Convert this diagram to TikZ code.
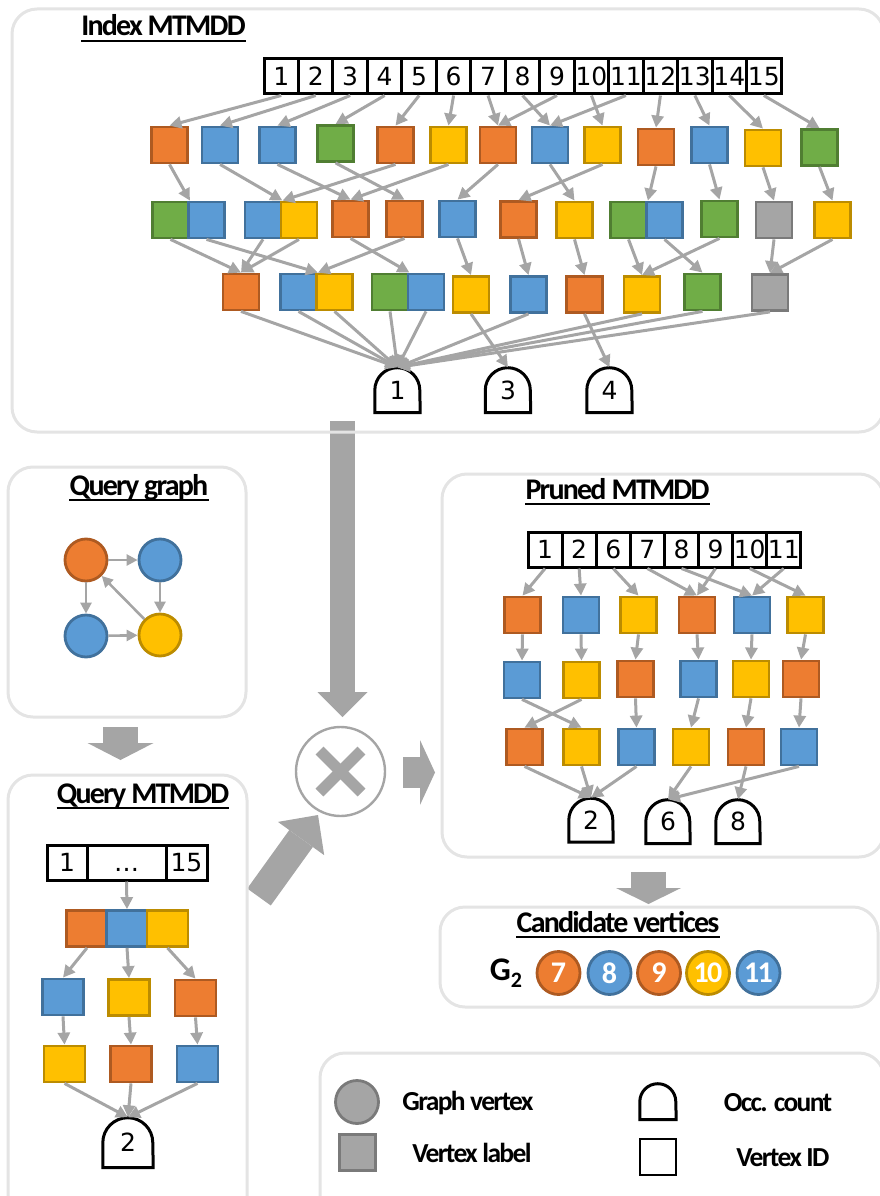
\documentclass[tikz,border=0pt]{standalone}
\usepackage{fontspec}
\usetikzlibrary{arrows.meta}
\newfontfamily\numfam{DejaVu Sans}
\newfontfamily\lblfam[LetterSpace=-6]{Carlito}
\newcommand{\numfont}{\numfam\fontsize{25}{25}\selectfont}
\newcommand{\ttlfont}{\lblfam\bfseries\fontsize{30}{30}\selectfont}
\newcommand{\legfont}{\lblfam\bfseries\fontsize{27.5}{27.5}\selectfont}
\newcommand{\candfont}{\lblfam\bfseries\fontsize{30}{30}\selectfont}
\definecolor{cOrange}{HTML}{ED7D31}
\definecolor{cOrangeD}{HTML}{AE5A21}
\definecolor{cBlue}{HTML}{5B9BD5}
\definecolor{cBlueD}{HTML}{41719C}
\definecolor{cYellow}{HTML}{FFC000}
\definecolor{cYellowD}{HTML}{BC8C00}
\definecolor{cGreen}{HTML}{70AD47}
\definecolor{cGreenD}{HTML}{507E32}
\definecolor{cGray}{HTML}{A5A5A5}
\definecolor{cGrayD}{HTML}{7A7A7A}
\definecolor{arrowgray}{HTML}{A5A5A5}
\definecolor{panelgray}{HTML}{E4E4E4}
\tikzstyle{sq}=[rectangle,minimum width=36pt,minimum height=36pt,inner sep=0pt,line width=2.8pt]
\tikzstyle{sqO}=[sq,fill=cOrange,draw=cOrangeD]
\tikzstyle{sqB}=[sq,fill=cBlue,draw=cBlueD]
\tikzstyle{sqY}=[sq,fill=cYellow,draw=cYellowD]
\tikzstyle{sqG}=[sq,fill=cGreen,draw=cGreenD]
\tikzstyle{sqX}=[sq,fill=cGray,draw=cGrayD]
\tikzstyle{idcell}=[draw=black,line width=3pt,minimum width=34.47pt,minimum height=35pt,inner sep=0pt,font=\numfont]
\tikzstyle{occ}=[inner sep=0pt,font=\numfont]
\tikzstyle{occline}=[draw=black,line width=3pt]
\tikzstyle{conn}=[draw=arrowgray,line width=3pt,-{Triangle[length=12pt,width=12pt]}]
\tikzstyle{panel}=[draw=panelgray,line width=3pt,rounded corners=25pt]
\tikzstyle{ttl}=[anchor=base,inner sep=0pt,font=\ttlfont]
\tikzstyle{vtx}=[circle,minimum size=42pt,inner sep=0pt,line width=2.8pt]
\tikzstyle{cand}=[vtx,minimum size=43pt,text=white,font=\candfont]
\tikzstyle{legtext}=[inner sep=0pt,font=\legfont]
\tikzstyle{fat}=[draw=arrowgray]
% terminal node with a round top: name, x, y, width, label
\newcommand{\occnode}[5]{%
  \node[occ,minimum width=#4pt,minimum height=#4pt] (#1) at (#2,#3) {#5};
  \draw[occline] (#1.south west) -- ++(0,{-#4/2}) arc[start angle=180,end angle=0,radius={#4/2*1pt}] -- (#1.south east) -- cycle;}
\newcommand{\ttlnode}[4]{%
  \node[ttl] (#1) at (#2,#3) {#4};
  \draw[black,line width=2.2pt] ([yshift=-5pt]#1.base west) -- ([yshift=-5pt]#1.base east);}

\begin{document}
\begin{tikzpicture}[x=1pt,y=-1pt]
\useasboundingbox (0,0) rectangle (879,1196);

% fat arrows between the panels
\coordinate (dnA) at (342.5,421);
\coordinate (dnB) at (342.5,717);
\coordinate (qA) at (120.5,727);
\coordinate (qB) at (120.5,760);
\coordinate (dgA) at (259,897);
\coordinate (dgB) at (318,815);
\coordinate (rtA) at (403,772.5);
\coordinate (rtB) at (435,772.5);
\coordinate (cdA) at (648.5,872);
\coordinate (cdB) at (648.5,904);
\draw[fat,line width=25pt,-{Triangle[length=25pt,width=50pt,line width=0pt]}] (dnA) -- (dnB);
\draw[fat,line width=35pt,-{Triangle[length=17pt,width=66pt,line width=0pt]}] (qA) -- (qB);
\draw[fat,line width=29pt,-{Triangle[length=29pt,width=57pt,line width=0pt]}] (dgA) -- (dgB);
\draw[fat,line width=31pt,-{Triangle[length=15pt,width=65pt,line width=0pt]}] (rtA) -- (rtB);
\draw[fat,line width=35pt,-{Triangle[length=16pt,width=65pt,line width=0pt]}] (cdA) -- (cdB);

% panels
\draw[panel] (12,9) rectangle (884,432);
\draw[panel] (8,467) rectangle (246,717);
\draw[panel] (8,775) rectangle (247,1230);
\draw[panel] (442,474) rectangle (884,857);
\draw[panel] (440,907) rectangle (878,1007);
\draw[panel] (320,1053) rectangle (884,1230);

\ttlnode{tIndex}{163.5}{36}{Index MTMDD}
\ttlnode{tQuery}{139}{495}{Query graph}
\ttlnode{tQmdd}{143}{803}{Query MTMDD}
\ttlnode{tPruned}{617.5}{499}{Pruned MTMDD}
\ttlnode{tCand}{618}{932}{Candidate vertices}

% index MTMDD
\foreach \i in {1,...,15}
  \node[idcell] (id\i) at ({264+34.47*(\i-0.5)},76.5) {\i};
\foreach \n/\x/\y/\c in {a1/169.5/145/sqO, a2/220/145/sqB, a3/277.5/145/sqB, a4/335.5/143.5/sqG,
    a5/395.5/145/sqO, a6/448.5/145/sqY, a7/498/145/sqO, a8/550/145/sqB, a9/602.5/145/sqY,
    a10/656/147/sqO, a11/709.5/145/sqB, a12/763/148/sqY, a13/819.5/147.5/sqG}
  \node[\c] (\n) at (\x,\y) {};
\foreach \n/\x/\y/\c in {b1/170.5/220/sqG, b2/206.5/220/sqB, b3/263/220/sqB, b4/299/220/sqY,
    b5/350.5/219/sqO, b6/404.5/219/sqO, b7/457.5/219/sqB, b8/518.5/219.5/sqO, b9/574.5/220/sqY,
    b10/628.5/220/sqG, b11/664.5/220/sqB, b12/719.5/219/sqG, b13/774/220/sqX, b14/832.5/220/sqY}
  \node[\c] (\n) at (\x,\y) {};
\foreach \n/\x/\y/\c in {c1/241/292/sqO, c2/298.5/292/sqB, c3/334.5/292/sqY, c4/390/292/sqG,
    c5/426/292/sqB, c6/471/294.5/sqY, c7/528.5/294.5/sqB, c8/584.5/294.5/sqO, c9/642/294.5/sqY,
    c10/702.5/292/sqG, c11/770/292.5/sqX}
  \node[\c] (\n) at (\x,\y) {};
\occnode{o1}{397.5}{390}{45}{1}
\occnode{o3}{508}{390}{45}{3}
\occnode{o4}{609.5}{390}{45}{4}

\foreach \s/\t in {1/a1,2/a2,3/a3,4/a4,5/a5,6/a6,7/a7,8/a8,9/a7,10/a9,11/a8,12/a10,13/a11,14/a12,15/a13}
  \draw[conn] (id\s.south) -- (\t.north);
\foreach \s/\t in {a1/b1.north east, a2/b3.north east, a3/b5.north, a4/b6.north, a5/b3.north east,
    a6/b5.north, a7/b7.north, a8/b9.north, a9/b8.north, a10/b10.north east, a11/b12.north,
    a12/b13.north, a13/b14.north}
  \draw[conn] (\s.south) -- (\t);
\foreach \s/\t in {b1/c1.north, b2/c2.north east, b3/c1.north, b4/c1.north, b5/c4.north east,
    b6/c2.north east, b7/c6.north, b8/c7.north, b9/c8.north, b10/c9.north, b11/c10.north,
    b12/c9.north, b13/c11.north, b14/c11.north}
  \draw[conn] (\s.south) -- (\t);
\foreach \s/\t in {c1/o1, c2/o1, c3/o1, c4/o1, c5/o1, c7/o1, c9/o1, c10/o1, c11/o1, c6/o3, c8/o4}
  \draw[conn] (\s.south) -- (\t.north);

% query graph
\node[vtx,fill=cOrange,draw=cOrangeD] (q1) at (86,560) {};
\node[vtx,fill=cBlue,draw=cBlueD] (q2) at (160,560) {};
\node[vtx,fill=cBlue,draw=cBlueD] (q3) at (86,636) {};
\node[vtx,fill=cYellow,draw=cYellowD] (q4) at (160,635) {};
\foreach \s/\t in {q1/q2, q1/q3, q2/q4, q3/q4, q4/q1}
  \draw[conn,line width=2.6pt,-{Triangle[length=11pt,width=11pt]}] (\s) -- (\t);

% query MTMDD
\node[idcell,minimum width=40pt] (qid1) at (67,862.5) {1};
\node[idcell,minimum width=79pt] (qid2) at (126.5,862.5) {\vphantom{1}…};
\node[idcell,minimum width=41pt] (qid3) at (186.5,862.5) {15};
\foreach \n/\x/\y/\c in {r1/87/928.5/sqO, r2/127/928.5/sqB, r3/167.5/928.5/sqY,
    s1/63/997/sqB, s2/129/997.5/sqY, s3/195.5/998/sqO,
    t1/64.5/1064/sqY, t2/131/1064/sqO, t3/197.5/1064/sqB}
  \node[\c,minimum width=41pt] (\n) at (\x,\y) {};
\occnode{qo}{128}{1142.5}{50}{2}
\draw[conn] (qid2.south) -- (r2.north);
\foreach \i in {1,2,3} {
  \draw[conn] (r\i.south) -- (s\i.north);
  \draw[conn] (s\i.south) -- (t\i.north);
  \draw[conn] (t\i.south) -- (qo.north);
}

% the product
\node[circle,draw=arrowgray,line width=2.4pt,minimum size=89pt] (mult) at (340.5,771.5) {};
\draw[arrowgray,line width=11pt] ([shift={(-21,-21)}]mult.center) -- ([shift={(21,21)}]mult.center);
\draw[arrowgray,line width=11pt] ([shift={(-21,21)}]mult.center) -- ([shift={(21,-21)}]mult.center);

% pruned MTMDD
\foreach \v [count=\k] in {1,2,6,7,8,9,10,11}
  \node[idcell,minimum width=34.1pt] (pid\v) at ({528+34.1*(\k-0.5)},549.5) {\v};
\foreach \n/\x/\y/\c in {u1/522.5/615/sqO, u2/581/615/sqB, u3/638.5/615/sqY, u4/697/615/sqO,
    u5/752/615/sqB, u6/805.5/615/sqY,
    v1/522/680/sqB, v2/581.5/680/sqY, v3/635.5/679/sqO, v4/698.5/679/sqB, v5/751/679/sqY, v6/801/679/sqO,
    w1/524.5/747/sqO, w2/581.5/747/sqY, w3/636.5/747/sqB, w4/691/747/sqY, w5/746/747/sqO, w6/799/747/sqB}
  \node[\c] (\n) at (\x,\y) {};
\occnode{po2}{591}{820}{44}{2}
\occnode{po6}{668}{821.5}{44}{6}
\occnode{po8}{738}{821.5}{44}{8}
\foreach \s/\t in {1/u1,2/u2,6/u3,7/u4,8/u5,9/u4,10/u6,11/u5}
  \draw[conn] (pid\s.south) -- (\t.north);
\foreach \i in {1,...,6}
  \draw[conn] (u\i.south) -- (v\i.north);
\foreach \s/\t in {v1/w2, v2/w1, v3/w3, v4/w4, v5/w5, v6/w6, w1/po2, w2/po2, w3/po2, w4/po6, w5/po8, w6/po6}
  \draw[conn] (\s.south) -- (\t.north);

% candidate vertices
\node[inner sep=0pt,font=\lblfam\bfseries\fontsize{33}{33}\selectfont] (g2) at (506,973) {G\raisebox{-7pt}{\fontsize{22}{22}\selectfont 2}};
\foreach \v/\x/\c in {7/558.5/cOrange, 8/609.5/cBlue, 9/659/cOrange, 10/708/cYellow, 11/758.5/cBlue}
  \node[cand,fill=\c,draw=\c D] (cv\v) at (\x,973) {\v};

% legend
\node[vtx,minimum size=43pt,fill=cGray,draw=cGrayD] (lc) at (357,1102) {};
\node[sqX] (ls) at (357.5,1152.5) {};
\occnode{lo}{658}{1101.5}{36}{}
\node[sq,draw=black] (lw) at (658,1157) {};
\node[legtext] (lt1) at (468,1103) {Graph vertex};
\node[legtext] (lt2) at (472,1153) {Vertex label};
\node[legtext] (lt3) at (778,1103) {Occ. count};
\node[legtext] (lt4) at (783,1158) {Vertex ID};
\end{tikzpicture}
\end{document}
